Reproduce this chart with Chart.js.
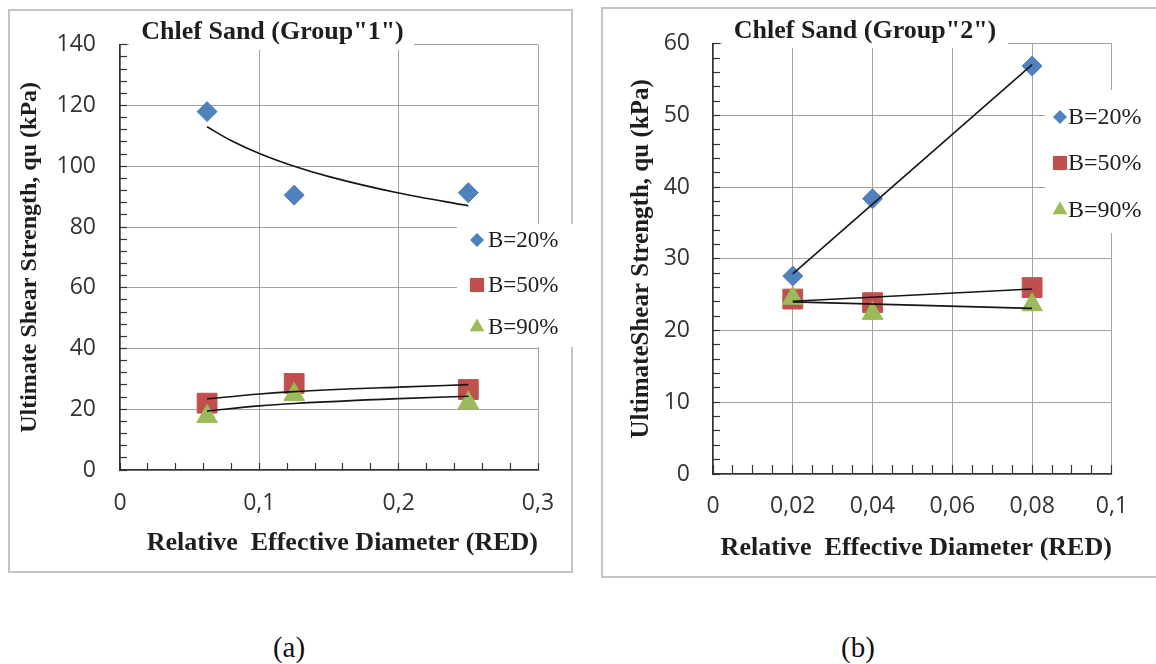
<!DOCTYPE html>
<html>
<head>
<meta charset="utf-8">
<title>Chlef Sand – ultimate shear strength vs RED</title>
<script src="https://cdn.jsdelivr.net/npm/chart.js@4/dist/chart.umd.min.js"></script>
<style>
  html, body { margin: 0; padding: 0; background: #fff; }
  body { width: 1156px; height: 664px; position: relative; overflow: hidden; }
  .frame { position: absolute; border: 2px solid #c4c4c4; box-sizing: border-box; }
  #frameA { left: 8px; top: 9px; width: 565px; height: 564px; }
  #frameB { left: 601px; top: 7px; width: 600px; height: 571px; }
  canvas { position: absolute; top: 0; }
  #chartA { left: 0; }
  #chartB { left: 590px; }
  .cap { position: absolute; top: 631px; font: 29px 'Liberation Serif', 'Times New Roman', serif;
         line-height: 1.107; color: #111; transform: translateX(-50%); white-space: nowrap; }
</style>
</head>
<body>
<div class="frame" id="frameA"></div>
<div class="frame" id="frameB"></div>
<canvas id="chartA" width="590" height="600"></canvas>
<canvas id="chartB" width="566" height="600"></canvas>
<div class="cap" style="left:289px">(a)</div>
<div class="cap" style="left:858px">(b)</div>

<script>
// ---- measured data ----
// Relative effective diameter (RED) of the tested inclusions
const redGroup1 = [0.0625, 0.125, 0.25];
const redGroup2 = [0.02, 0.04, 0.08];
const seriesNames = ['B=20%', 'B=50%', 'B=90%'];

// Ultimate shear strength qu (kPa), Chlef sand group 1
const quG1B20 = [118.0, 90.5, 91.3];
const quG1B50 = [22.0, 28.5, 26.5];
const quG1B90 = [17.6, 24.8, 22.1];

// Ultimate shear strength qu (kPa), Chlef sand group 2
const quG2B20 = [27.6, 38.4, 56.9];
const quG2B50 = [24.4, 23.9, 26.0];
const quG2B90 = [24.5, 22.4, 23.6];

// Trend lines (group 1: logarithmic, group 2: linear)
const trendG1X = [0.0625, 0.08, 0.1, 0.125, 0.15, 0.2, 0.25];
const trendG1B20 = [113.0, 108.4, 104.2, 100.0, 96.6, 91.2, 87.0];
const trendG1LowX = [0.0625, 0.1, 0.125, 0.2, 0.25];
const trendG1B50 = [23.4, 25.0, 25.8, 27.3, 28.1];
const trendG1B90 = [19.4, 21.1, 21.9, 23.5, 24.3];
const trendG2X = [0.02, 0.08];
const trendG2B20 = [27.9, 57.1];
const trendG2B50 = [24.1, 25.8];
const trendG2B90 = [24.0, 23.1];

// Labelled (major) tick values
const xMajorG1 = [0, 0.1, 0.2, 0.3];
const yMajorG1 = [0, 20, 40, 60, 80, 100, 120, 140];
const xMajorG2 = [0, 0.02, 0.04, 0.06, 0.08, 0.1];
const yMajorG2 = [0, 10, 20, 30, 40, 50, 60];

// ---- styling ----
const BLUE = '#4F81BD', RED = '#C0504D', GREEN = '#9BBB59';
const GRID = '#a3a3a3', AXIS = '#333333', INK = '#1e1e1e';
const SERIF = "'Liberation Serif', 'Times New Roman', serif";
Chart.defaults.font.family = "'Open Sans', sans-serif";

const pts = (xs, ys) => xs.map((x, i) => ({ x: x, y: ys[i] }));
const isMajor = (v, majors) => majors.some(m => Math.abs(m - v) < 1e-9);
const fmt = v => String(v).replace('.', ',');

function drawMarker(ctx, style, x, y, r) {
  ctx.beginPath();
  if (style === 'rectRot') {
    ctx.moveTo(x - r, y); ctx.lineTo(x, y - r); ctx.lineTo(x + r, y); ctx.lineTo(x, y + r);
  } else if (style === 'rect') {
    const s = r * Math.SQRT1_2;
    ctx.rect(x - s, y - s, 2 * s, 2 * s);
  } else {
    const h = r * Math.sin(2 * Math.PI / 3);
    ctx.moveTo(x, y - r); ctx.lineTo(x + h, y + r / 2); ctx.lineTo(x - h, y + r / 2);
  }
  ctx.closePath();
  ctx.fill();
}

// Title over the top edge of the plot, and a legend box cut into the grid
const frameDecor = {
  id: 'frameDecor',
  beforeDatasetsDraw(chart, args, o) {
    const ctx = chart.ctx;
    ctx.save();
    ctx.fillStyle = '#fff';
    ctx.fillRect(...o.titleBox);
    ctx.fillRect(...o.legendBox);

    ctx.fillStyle = INK;
    ctx.font = 'bold 26px ' + SERIF;
    ctx.textAlign = 'center';
    ctx.textBaseline = 'alphabetic';
    ctx.fillText(o.title, o.titleX, o.titleY);

    ctx.font = o.legendSize + 'px ' + SERIF;
    ctx.textAlign = 'left';
    ctx.textBaseline = 'middle';
    const legendR = { rectRot: 7, rect: 10, triangle: 8.5 };
    chart.data.datasets.filter(d => !d.showLine).forEach((d, i) => {
      const y = o.legendY[i];
      ctx.fillStyle = d.backgroundColor;
      drawMarker(ctx, d.pointStyle, o.legendMarkerX, y, legendR[d.pointStyle]);
      ctx.fillStyle = INK;
      ctx.fillText(d.label, o.legendTextX, y + 1);
    });
    ctx.restore();
  }
};

// later series sit on top of earlier ones; trend lines over all markers
function markerSet(label, xs, ys, style, radius, color, order) {
  return {
    label: label, data: pts(xs, ys), pointStyle: style,
    pointRadius: radius, pointHoverRadius: radius,
    backgroundColor: color, borderColor: color, pointBorderWidth: 1,
    showLine: false, order: order
  };
}
function trendSet(label, xs, ys, curved) {
  return {
    label: label, data: pts(xs, ys), showLine: true,
    pointRadius: 0, pointHoverRadius: 0,
    borderColor: '#151515', borderWidth: 1.6,
    cubicInterpolationMode: curved ? 'monotone' : 'default',
    order: 0
  };
}

function axis(opts) {
  return {
    type: 'linear', min: opts.min, max: opts.max,
    afterFit: s => { if (opts.width) s.width = opts.width; if (opts.height) s.height = opts.height; },
    ticks: {
      stepSize: opts.step, autoSkip: false, maxRotation: 0, maxTicksLimit: 200,
      padding: opts.pad, color: '#333', font: { size: 23 },
      callback: v => isMajor(v, opts.majors) ? fmt(v) : ''
    },
    grid: {
      color: c => (c.tick && isMajor(c.tick.value, opts.majors)) ? GRID : 'rgba(0,0,0,0)',
      lineWidth: 1, tickColor: AXIS, tickLength: -opts.tick, tickWidth: 1.2
    },
    border: { color: AXIS, width: 1.5 },
    title: opts.title
  };
}

function build(id, cfg) {
  return new Chart(document.getElementById(id), {
    type: 'scatter',
    data: { datasets: cfg.datasets },
    options: {
      responsive: false, animation: false, events: [],
      devicePixelRatio: 1,
      layout: { padding: cfg.padding },
      scales: { x: cfg.x, y: cfg.y },
      plugins: { legend: { display: false }, tooltip: { enabled: false }, frameDecor: cfg.decor }
    },
    plugins: [frameDecor]
  });
}

// ---- (a) Group 1 ----
build('chartA', {
  padding: { left: 0, top: 38, right: 52, bottom: 30 },
  datasets: [
    markerSet(seriesNames[0], redGroup1, quG1B20, 'rectRot', 10, BLUE, 3),
    markerSet(seriesNames[1], redGroup1, quG1B50, 'rect', 14, RED, 2),
    markerSet(seriesNames[2], redGroup1, quG1B90, 'triangle', 12, GREEN, 1),
    trendSet('Log. (B=20%)', trendG1X, trendG1B20, true),
    trendSet('Log. (B=50%)', trendG1LowX, trendG1B50, true),
    trendSet('Log. (B=90%)', trendG1LowX, trendG1B90, true)
  ],
  x: axis({ min: 0, max: 0.3, step: 0.02, majors: xMajorG1, pad: 27, tick: 7, height: 100,
    title: { display: true, text: 'Relative  Effective Diameter (RED)', align: 'end', color: INK,
             font: { family: SERIF, size: 26, weight: 'bold' }, padding: { top: 0, bottom: 11 } } }),
  y: axis({ min: 0, max: 140, step: 4, majors: yMajorG1, pad: 31, tick: 7, width: 120,
    title: { display: true, text: 'Ultimate Shear Strength, qu (kPa)', color: INK,
             font: { family: SERIF, size: 24, weight: 'bold' }, padding: { top: 15.6, bottom: 0 } } }),
  decor: {
    title: 'Chlef Sand (Group"1")', titleX: 272.5, titleY: 39,
    titleBox: [129, 12, 285, 38],
    legendBox: [457, 224, 133, 123],
    legendY: [240, 285, 327], legendMarkerX: 477, legendTextX: 488, legendSize: 23
  }
});

// ---- (b) Group 2 ----
build('chartB', {
  padding: { left: 0, top: 38, right: 25, bottom: 26 },
  datasets: [
    markerSet(seriesNames[0], redGroup2, quG2B20, 'rectRot', 10, BLUE, 3),
    markerSet(seriesNames[1], redGroup2, quG2B50, 'rect', 14, RED, 2),
    markerSet(seriesNames[2], redGroup2, quG2B90, 'triangle', 12, GREEN, 1),
    trendSet('Linear (B=20%)', trendG2X, trendG2B20, false),
    trendSet('Linear (B=50%)', trendG2X, trendG2B50, false),
    trendSet('Linear (B=90%)', trendG2X, trendG2B90, false)
  ],
  x: axis({ min: 0, max: 0.1, step: 0.005, majors: xMajorG2, pad: 28, tick: 9, height: 100,
    title: { display: true, text: 'Relative  Effective Diameter (RED)', align: 'end', color: INK,
             font: { family: SERIF, size: 26, weight: 'bold' }, padding: { top: 0, bottom: 10 } } }),
  y: axis({ min: 0, max: 60, step: 2, majors: yMajorG2, pad: 30, tick: 7, width: 123,
    title: { display: true, text: 'UltimateShear Strength, qu (kPa)', color: INK,
             font: { family: SERIF, size: 25, weight: 'bold' }, padding: { top: 37, bottom: 0 } } }),
  decor: {
    title: 'Chlef Sand (Group"2")', titleX: 275, titleY: 38,
    titleBox: [132, 12, 286, 36],
    legendBox: [455, 90, 111, 143],
    legendY: [117, 163, 210], legendMarkerX: 470, legendTextX: 478, legendSize: 24
  }
});
</script>
</body>
</html>
